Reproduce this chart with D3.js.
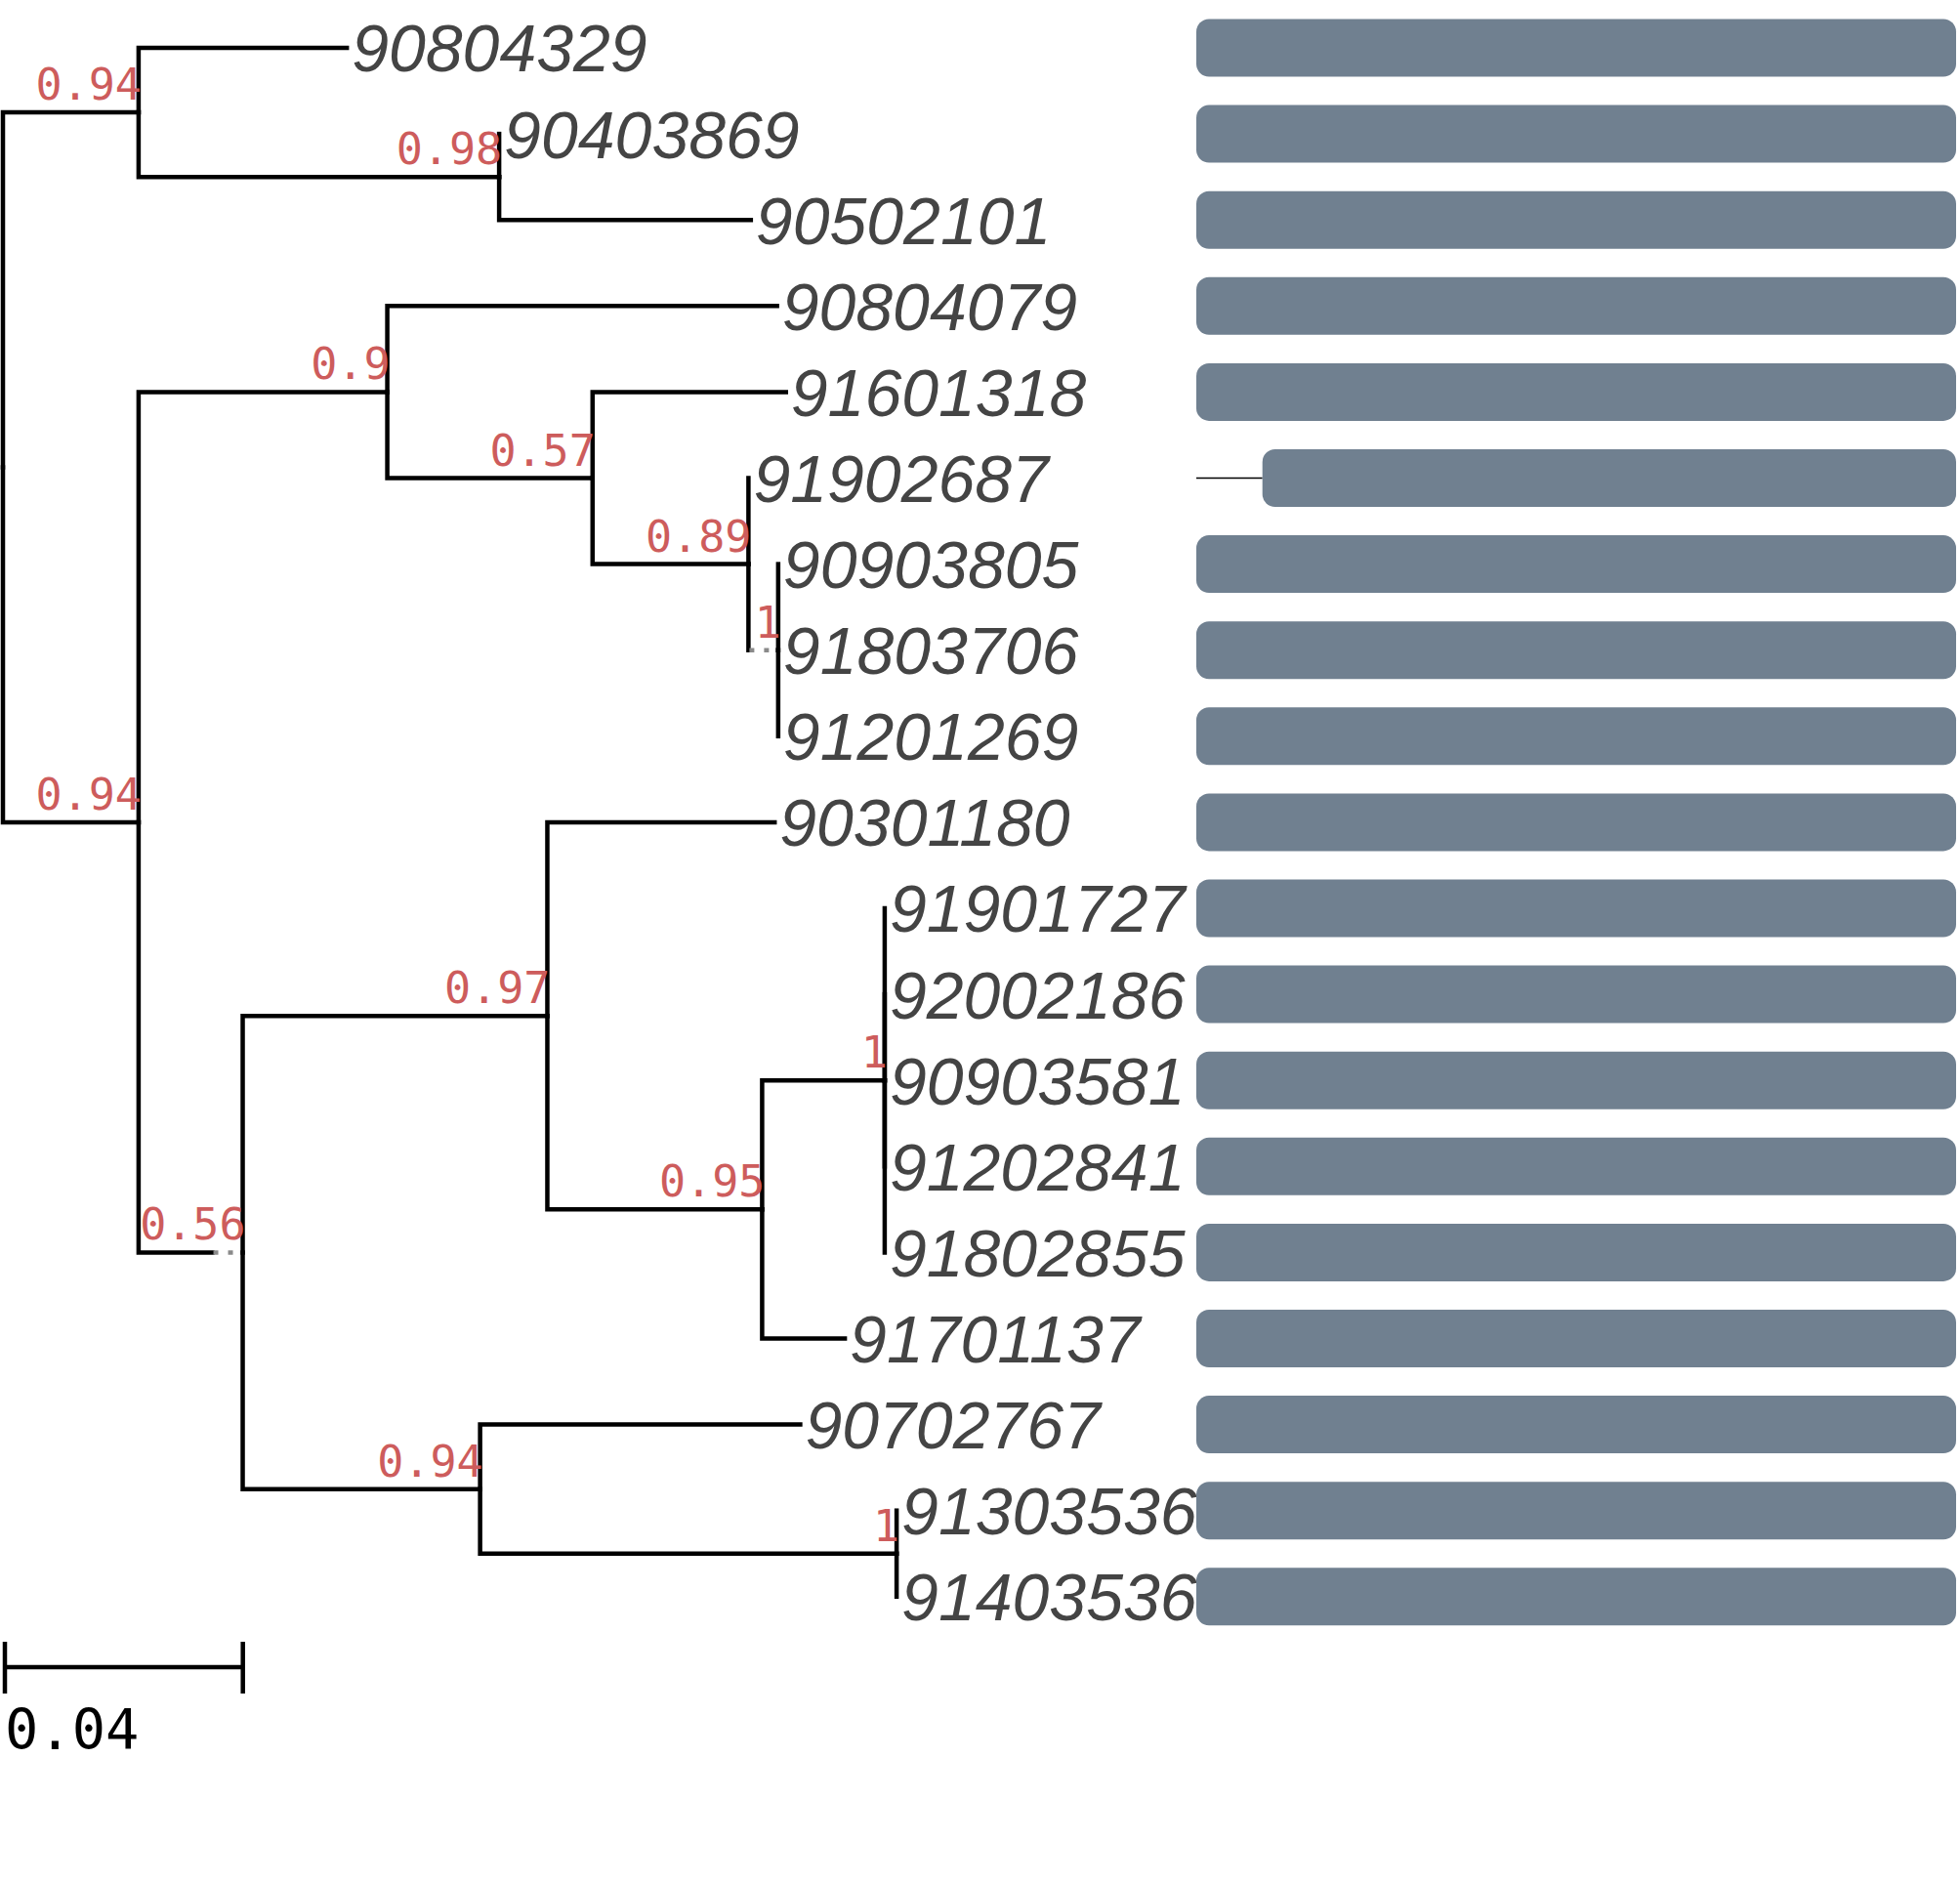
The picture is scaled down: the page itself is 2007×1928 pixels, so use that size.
<!DOCTYPE html>
<html>
<head>
<meta charset="utf-8">
<script src="https://cdn.jsdelivr.net/npm/d3@7"></script>
<style>
  html, body { margin: 0; padding: 0; background: #fff; }
  svg { display: block; }
</style>
</head>
<body>
<svg id="chart" width="2007" height="1928"></svg>
<script>
// ---------------- DATA ----------------
const nodeIds = ["root","A","90804329","B","90403869","90502101","C","D","90804079","E","91601318","F","91902687","G","90903805","91803706","91201269","H","I","90301180","J","K","91901727","92002186","90903581","91202841","91802855","91701137","L","90702767","M","91303536","91403536"];
const parentIds = [null,"root","A","A","B","B","root","C","D","D","E","E","F","F","G","G","G","C","H","I","I","J","K","K","K","K","K","J","H","L","L","M","M"];
const branchLengths = [0,0.0228,0.0350,0.0606,0,0.0423,0.0228,0.0418,0.0655,0.0345,0.0325,0.0262,0,0.0050,0,0,0,0.0175,0.0512,0.0382,0.0361,0.0206,0,0,0,0,0,0.0139,0.0399,0.0538,0.0700,0,0];
const supportValues = [null,0.94,null,0.98,null,null,0.94,0.9,null,0.57,null,0.89,null,1,null,null,null,0.56,0.97,null,0.95,1,null,null,null,null,null,null,0.94,null,1,null,null];
const dottedBranches = ["G","H"];

const barLeaves = ["90804329","90403869","90502101","90804079","91601318","91902687","90903805","91803706","91201269","90301180","91901727","92002186","90903581","91202841","91802855","91701137","90702767","91303536","91403536"];
const barStart = [0,0,0,0,0,87,0,0,0,0,0,0,0,0,0,0,0,0,0];
const barEnd   = [1000,1000,1000,1000,1000,1000,1000,1000,1000,1000,1000,1000,1000,1000,1000,1000,1000,1000,1000];

const scaleBarValue = 0.04;
const scaleBarLabel = "0.04";

// ---------------- LAYOUT ----------------
const svg = d3.select("#chart");
const nLeaves = barLeaves.length;
const rowScale = d3.scaleLinear().domain([0, nLeaves - 1]).range([49, 49 + (nLeaves - 1) * 88.1]);
const xScale = d3.scaleLinear().domain([0, 0.04]).range([3, 3 + 243.7]);
const barScale = d3.scaleLinear().domain([0, 1000]).range([1225, 2003]);

const table = nodeIds.map((id, i) => ({id, parent: parentIds[i], bl: branchLengths[i], support: supportValues[i]}));
const root = d3.stratify().id(d => d.id).parentId(d => d.parent)(table);

root.eachBefore(n => { n.dist = n.parent ? n.parent.dist + n.data.bl : 0; });
root.leaves().forEach((l, i) => { l.row = i; });
root.eachAfter(n => {
  if (n.children) n.row = (n.children[0].row + n.children[n.children.length - 1].row) / 2;
});
root.each(n => { n.px = xScale(n.dist); n.py = rowScale(n.row); });

const gTree = svg.append("g");
const dotLen = 31;
const lw = 4.5;

root.descendants().filter(n => n.parent).forEach(n => {
  const p = n.parent;
  if (dottedBranches.includes(n.id)) {
    const xe = Math.max(p.px, n.px - dotLen);
    gTree.append("path")
      .attr("d", `M${p.px},${p.py}V${n.py}H${xe}`)
      .attr("fill", "none").attr("stroke", "#000").attr("stroke-width", lw)
      .attr("stroke-linecap", "square").attr("stroke-linejoin", "miter");
    gTree.append("line")
      .attr("x1", xe + 1).attr("x2", n.px).attr("y1", n.py).attr("y2", n.py)
      .attr("stroke", "#8a8a8a").attr("stroke-width", lw)
      .attr("stroke-dasharray", "5,10");
  } else {
    gTree.append("path")
      .attr("d", `M${p.px},${p.py}V${n.py}H${n.px}`)
      .attr("fill", "none").attr("stroke", "#000").attr("stroke-width", lw)
      .attr("stroke-linecap", "square").attr("stroke-linejoin", "miter");
  }
});

// support labels
svg.append("g").selectAll("text")
  .data(root.descendants().filter(n => n.data.support !== null && n.parent))
  .join("text")
  .attr("x", d => d.px + 3)
  .attr("y", d => d.py - 13)
  .attr("text-anchor", "end")
  .attr("font-family", "'DejaVu Sans Mono', monospace")
  .attr("font-size", 45)
  .attr("fill", "#CD5C5C")
  .text(d => d.data.support);

// leaf labels
svg.append("g").selectAll("text")
  .data(root.leaves())
  .join("text")
  .attr("x", d => d.px + 5)
  .attr("y", d => d.py)
  .attr("dy", "0.36em")
  .attr("font-family", "'Liberation Sans', Arial, Helvetica, sans-serif")
  .attr("font-style", "italic")
  .attr("font-size", 68)
  .attr("fill", "#444444")
  .text(d => d.id);

// bars
const gBars = svg.append("g");
barLeaves.forEach((id, i) => {
  const y = rowScale(i);
  if (barStart[i] > 0) {
    gBars.append("line")
      .attr("x1", barScale(0)).attr("x2", barScale(barStart[i]))
      .attr("y1", y).attr("y2", y)
      .attr("stroke", "#000").attr("stroke-width", 1.5);
  }
  gBars.append("rect")
    .attr("x", barScale(barStart[i]))
    .attr("width", barScale(barEnd[i]) - barScale(barStart[i]))
    .attr("y", y - 29.5).attr("height", 59)
    .attr("rx", 13).attr("ry", 13)
    .attr("fill", "#708090");
});

// scale bar
const sbX = 5, sbY = 1707;
const sbLen = xScale(scaleBarValue) - xScale(0);
const gSb = svg.append("g").attr("stroke", "#000").attr("stroke-width", lw);
gSb.append("line").attr("x1", sbX).attr("x2", sbX + sbLen).attr("y1", sbY).attr("y2", sbY);
gSb.append("line").attr("x1", sbX).attr("x2", sbX).attr("y1", sbY - 26).attr("y2", sbY + 27);
gSb.append("line").attr("x1", sbX + sbLen).attr("x2", sbX + sbLen).attr("y1", sbY - 26).attr("y2", sbY + 27);
svg.append("text")
  .attr("x", 5).attr("y", 1791)
  .attr("font-family", "'DejaVu Sans Mono', monospace")
  .attr("font-size", 57)
  .attr("fill", "#000")
  .text(scaleBarLabel);
</script>
</body>
</html>
